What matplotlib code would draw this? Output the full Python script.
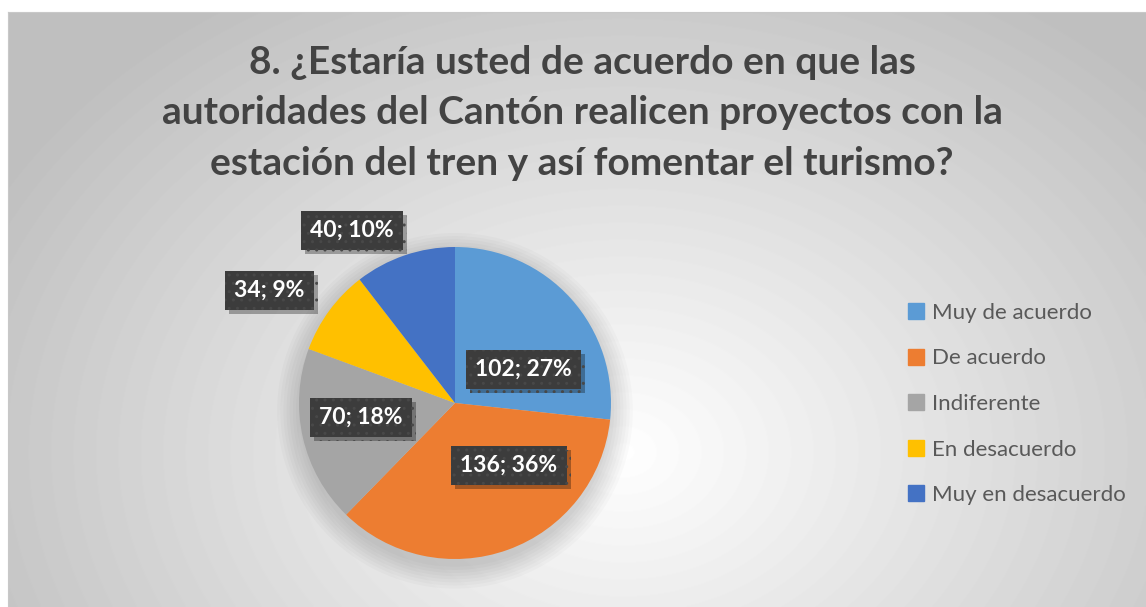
import numpy as np
import matplotlib.pyplot as plt
import matplotlib.patheffects as pe
from matplotlib.patches import Circle

plt.rcParams['font.family'] = ['Lato', 'DejaVu Sans']

categories = ["Muy de acuerdo", "De acuerdo", "Indiferente", "En desacuerdo", "Muy en desacuerdo"]
counts = [102, 136, 70, 34, 40]
percents = [27, 36, 18, 9, 10]
colors = ["#5B9BD5", "#ED7D31", "#A5A5A5", "#FFC000", "#4472C4"]
title = ("8. ¿Estaría usted de acuerdo en que las\n"
         "autoridades del Cantón realicen proyectos con la\n"
         "estación del tren y así fomentar el turismo?")

# label placement: radius factor and angle nudge (deg) per slice
label_r = [0.49, 0.53, 0.61, 1.39, 1.29]
label_da = [-16, 21, -4, 5, 12]

W, H = 1146, 607
fig = plt.figure(figsize=(W / 100, H / 100), dpi=100)
fig.patch.set_facecolor("white")

# chart area with radial gradient background
bg = fig.add_axes([8 / W, 0, 1 - 8 / W, 1 - 12 / H])
yy, xx = np.mgrid[0:595, 0:1138]
d = np.hypot((xx - 615) / 660, (yy - 440) / 500)
v = 1 - 0.23 * np.clip(d, 0, 1.1)
bg.imshow(v, cmap="gray", vmin=0, vmax=1, aspect="auto", extent=[0, 1, 0, 1], origin="upper")
bg.set_xlim(0, 1)
bg.set_ylim(0, 1)
for s in ["top", "left"]:
    bg.spines[s].set_color("#c8c8c8")
for s in ["bottom", "right"]:
    bg.spines[s].set_visible(False)
bg.set_xticks([])
bg.set_yticks([])

fig.text(582 / W, 1 - 113 / H, title, ha="center", va="center", fontsize=28,
         fontweight="bold", color="#434343", linespacing=1.52)

# pie
cx, cy, r = 455, 403, 156
ax = fig.add_axes([(cx - r) / W, (H - cy - r) / H, 2 * r / W, 2 * r / H])
for k in range(8):
    ax.add_patch(Circle((0, -0.05), 1.0 + 0.02 * k, color="black", alpha=0.02, lw=0,
                        zorder=0, clip_on=False))
wedges, _ = ax.pie(counts, colors=colors, startangle=90, counterclock=False,
                   wedgeprops=dict(linewidth=0))
ax.set_xlim(-1, 1)
ax.set_ylim(-1, 1)
ax.set_aspect("equal")

for w, c, p, lr, da in zip(wedges, counts, percents, label_r, label_da):
    ang = np.deg2rad((w.theta1 + w.theta2) / 2 + da)
    t = ax.text(lr * np.cos(ang), lr * np.sin(ang), f"{c}; {p}%", ha="center", va="center",
                fontsize=16.5, fontweight="bold", color="white", zorder=5,
                bbox=dict(boxstyle="square,pad=0.4", fc="#3c3c3c", ec="#484848",
                          lw=0, hatch=".."))
    t.get_bbox_patch().set_path_effects([
        pe.SimplePatchShadow(offset=(3, -3), shadow_rgbFace="black", alpha=0.3),
        pe.Normal()])

handles = [plt.Line2D([], [], marker="s", ls="none", ms=11, color=c) for c in colors]
fig.legend(handles, categories, loc="center left", bbox_to_anchor=(883 / W, 1 - 404 / H),
           frameon=False, fontsize=16, labelcolor="#595959", labelspacing=1.15,
           handletextpad=0.1, handlelength=1.2)

fig.savefig("out.png", dpi=100)
